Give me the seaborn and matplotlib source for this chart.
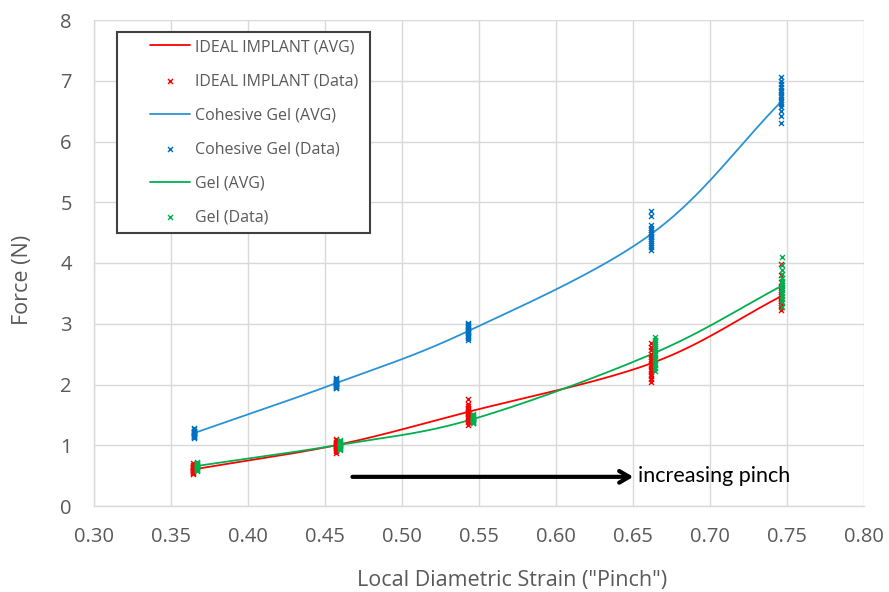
import numpy as np
import pandas as pd
import matplotlib
matplotlib.use("Agg")
import matplotlib.pyplot as plt
import matplotlib.patches as mpatches
import seaborn as sns
from matplotlib.ticker import MultipleLocator, FormatStrFormatter

# ---- data -------------------------------------------------------------
# average curves (strain, force)
ideal_avg_x = [0.364, 0.457, 0.543, 0.662, 0.746]
ideal_avg_y = [0.60, 1.00, 1.55, 2.35, 3.45]
cohesive_avg_x = [0.365, 0.457, 0.543, 0.662, 0.746]
cohesive_avg_y = [1.20, 2.02, 2.88, 4.48, 6.65]
gel_avg_x = [0.367, 0.460, 0.546, 0.664, 0.747]
gel_avg_y = [0.66, 1.01, 1.43, 2.52, 3.63]

# individual measurements (15 per strain level)
ideal_data_x = [0.364] * 15 + [0.457] * 15 + [0.543] * 15 + [0.662] * 15 + [0.746] * 15
ideal_data_y = [0.53, 0.55, 0.56, 0.57, 0.58, 0.59, 0.60, 0.61, 0.62, 0.63, 0.64, 0.65, 0.66, 0.68, 0.70,
                0.88, 0.91, 0.93, 0.95, 0.96, 0.97, 0.98, 0.99, 1.00, 1.01, 1.02, 1.04, 1.06, 1.08, 1.11,
                1.34, 1.38, 1.42, 1.45, 1.47, 1.49, 1.51, 1.53, 1.55, 1.57, 1.59, 1.61, 1.64, 1.68, 1.76,
                2.04, 2.09, 2.14, 2.18, 2.22, 2.26, 2.30, 2.34, 2.38, 2.42, 2.46, 2.51, 2.56, 2.62, 2.68,
                3.23, 3.27, 3.31, 3.34, 3.37, 3.40, 3.43, 3.46, 3.49, 3.52, 3.56, 3.61, 3.68, 3.80, 3.98]
cohesive_data_x = [0.365] * 15 + [0.457] * 15 + [0.543] * 15 + [0.662] * 15 + [0.746] * 15
cohesive_data_y = [1.12, 1.13, 1.14, 1.15, 1.16, 1.17, 1.18, 1.19, 1.20, 1.21, 1.22, 1.23, 1.24, 1.26, 1.28,
                   1.94, 1.95, 1.96, 1.97, 1.98, 1.99, 2.00, 2.01, 2.02, 2.03, 2.04, 2.05, 2.07, 2.09, 2.11,
                   2.73, 2.76, 2.78, 2.80, 2.82, 2.84, 2.86, 2.88, 2.90, 2.92, 2.94, 2.96, 2.98, 3.00, 3.02,
                   4.22, 4.26, 4.30, 4.33, 4.36, 4.39, 4.42, 4.45, 4.48, 4.51, 4.54, 4.58, 4.62, 4.78, 4.85,
                   6.30, 6.42, 6.50, 6.56, 6.61, 6.65, 6.69, 6.73, 6.77, 6.81, 6.85, 6.89, 6.94, 7.00, 7.06]
gel_data_x = [0.367] * 15 + [0.460] * 15 + [0.546] * 15 + [0.664] * 15 + [0.747] * 15
gel_data_y = [0.58, 0.59, 0.60, 0.61, 0.62, 0.63, 0.64, 0.65, 0.66, 0.67, 0.68, 0.69, 0.70, 0.71, 0.72,
              0.93, 0.94, 0.95, 0.96, 0.97, 0.98, 0.99, 1.00, 1.01, 1.02, 1.03, 1.04, 1.05, 1.07, 1.09,
              1.36, 1.37, 1.38, 1.39, 1.40, 1.41, 1.42, 1.43, 1.44, 1.45, 1.46, 1.47, 1.48, 1.49, 1.51,
              2.22, 2.27, 2.32, 2.36, 2.40, 2.44, 2.48, 2.52, 2.56, 2.60, 2.63, 2.66, 2.70, 2.74, 2.78,
              3.28, 3.35, 3.41, 3.46, 3.51, 3.55, 3.59, 3.63, 3.67, 3.71, 3.76, 3.82, 3.88, 3.97, 4.10]

x_ticks = [0.30, 0.35, 0.40, 0.45, 0.50, 0.55, 0.60, 0.65, 0.70, 0.75, 0.80]
y_ticks = [0, 1, 2, 3, 4, 5, 6, 7, 8]

RED = "#FF0000"
BLUE_LINE = "#2A93D5"
BLUE_PTS = "#0070C0"
GREEN = "#00B050"
GRAY = "#595959"


def smooth(xs, ys, n=40):
    """Catmull-Rom curve through the points (spreadsheet-style smoothed line)."""
    xs = np.asarray(xs, float)
    ys = np.asarray(ys, float)
    px = np.concatenate([[2 * xs[0] - xs[1]], xs, [2 * xs[-1] - xs[-2]]])
    py = np.concatenate([[2 * ys[0] - ys[1]], ys, [2 * ys[-1] - ys[-2]]])
    outx, outy = [], []
    t = np.linspace(0, 1, n)
    for i in range(1, len(px) - 2):
        for p, out in ((px, outx), (py, outy)):
            p0, p1, p2, p3 = p[i - 1], p[i], p[i + 1], p[i + 2]
            out.extend(0.5 * ((2 * p1) + (-p0 + p2) * t
                              + (2 * p0 - 5 * p1 + 4 * p2 - p3) * t ** 2
                              + (-p0 + 3 * p1 - 3 * p2 + p3) * t ** 3))
    return np.array(outx), np.array(outy)


sns.set_theme(style="white")
plt.rcParams["font.family"] = ["Open Sans", "DejaVu Sans"]

fig = plt.figure(figsize=(8.89, 5.92), dpi=100)
ax = fig.add_axes([94 / 889, 1 - 506 / 592, 770 / 889, 486 / 592])

series = [
    ("IDEAL IMPLANT", ideal_avg_x, ideal_avg_y, ideal_data_x, ideal_data_y, RED, RED),
    ("Cohesive Gel", cohesive_avg_x, cohesive_avg_y, cohesive_data_x, cohesive_data_y, BLUE_LINE, BLUE_PTS),
    ("Gel", gel_avg_x, gel_avg_y, gel_data_x, gel_data_y, GREEN, GREEN),
]

for name, ax_x, ax_y, dx, dy, lc, pc in series:
    sx, sy = smooth(ax_x, ax_y)
    curve = pd.DataFrame({"x": sx, "y": sy})
    sns.lineplot(data=curve, x="x", y="y", ax=ax, color=lc, lw=1.3,
                 sort=False, estimator=None, label=f"{name} (AVG)", zorder=3)
    pts = pd.DataFrame({"x": dx, "y": dy})
    sns.scatterplot(data=pts, x="x", y="y", ax=ax, marker="x", color=pc,
                    s=13, linewidth=1.0, label=f"{name} (Data)", zorder=4)

ax.set_xlim(0.30, 0.80)
ax.set_ylim(0, 8)
ax.set_xticks(x_ticks)
ax.set_yticks(y_ticks)
ax.xaxis.set_major_formatter(FormatStrFormatter("%.2f"))
ax.xaxis.set_minor_locator(MultipleLocator(0.01))
ax.yaxis.set_minor_locator(MultipleLocator(0.2))
ax.grid(True, which="major", color="#D9D9D9", lw=1.0)
ax.set_axisbelow(True)
ax.tick_params(which="major", length=0, labelsize=14.5, labelcolor=GRAY)
ax.tick_params(axis="x", which="major", pad=15)
ax.tick_params(axis="y", which="major", pad=16)
ax.tick_params(which="minor", direction="in", length=5, width=1, color="#D9D9D9")
for side in ("top", "right"):
    ax.spines[side].set_visible(False)
for side in ("left", "bottom"):
    ax.spines[side].set_color("#D9D9D9")
    ax.spines[side].set_linewidth(1.0)

ax.set_xlabel('Local Diametric Strain ("Pinch")', fontsize=15.5, color=GRAY)
ax.set_ylabel("Force (N)", fontsize=15.5, color=GRAY)
ax.xaxis.set_label_coords((512 - 94) / 770, (506 - 570) / 486)
ax.yaxis.set_label_coords((33 - 94) / 770, (506 - 280) / 486)

# arrow and annotation
ax.annotate("", xy=(0.652, 0.48), xytext=(0.466, 0.48),
            arrowprops=dict(arrowstyle="->,head_length=0.6,head_width=0.35",
                            color="black", lw=3))
ax.text(0.6535, 0.50, "increasing pinch", fontsize=15.5, color="black",
        va="center", ha="left", family=["Lato", "DejaVu Sans"])

# legend: frame drawn as its own box, entries placed inside it
frame = mpatches.Rectangle(((117 - 94) / 770, (506 - 233) / 486), 253 / 770, 201 / 486,
                           transform=ax.transAxes, fill=True, facecolor="white",
                           edgecolor="#404040", lw=1.5, zorder=5)
ax.add_patch(frame)
handles, labels = ax.get_legend_handles_labels()
leg = ax.legend(handles, labels, loc="upper left",
                bbox_to_anchor=((150 - 94) / 770, (506 - 39) / 486),
                frameon=False, fontsize=11.5, labelspacing=1.13, handlelength=2.5,
                handletextpad=0.3, borderpad=0, borderaxespad=0, labelcolor=GRAY)
leg.set_zorder(6)

fig.savefig("out.png", dpi=100)
